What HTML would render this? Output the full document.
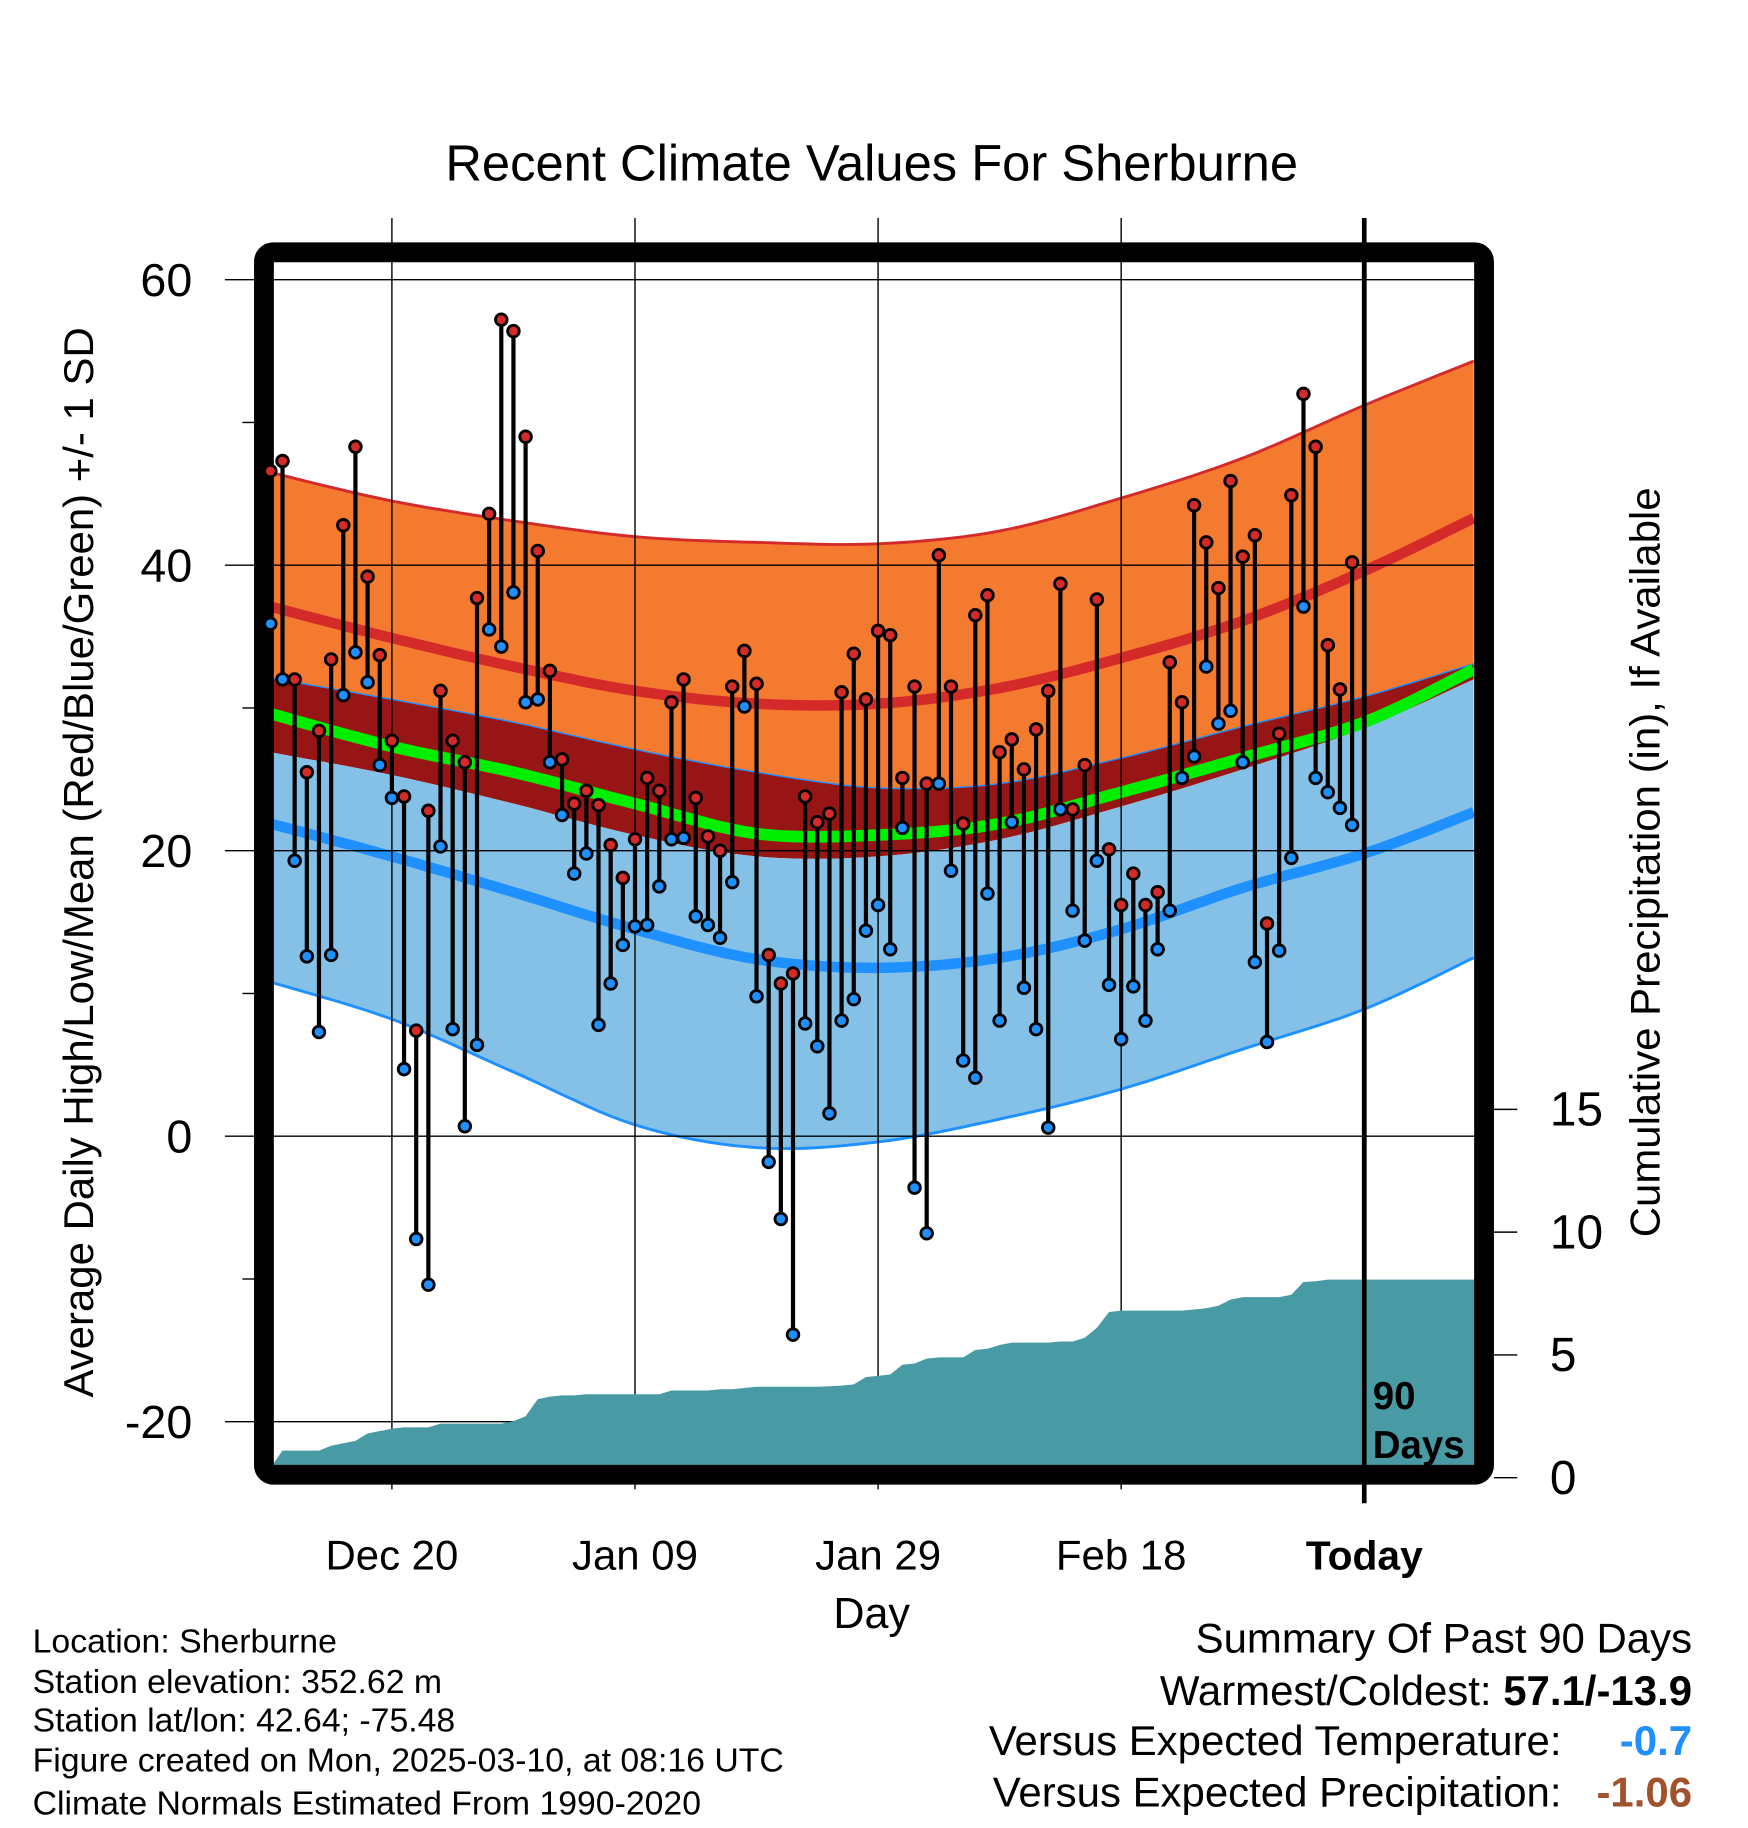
<!DOCTYPE html>
<html><head><meta charset="utf-8"><style>
html,body{margin:0;padding:0;background:#fff}
svg{display:block;font-family:"Liberation Sans",sans-serif}
</style></head><body>
<svg id="chart" width="1748" height="1828" viewBox="0 0 1500 1568.6" xmlns="http://www.w3.org/2000/svg">
<defs><clipPath id="plotclip"><rect x="226" y="216" width="1048" height="1050"/></clipPath></defs>
<rect width="1500" height="1568.6" fill="#fff"/>
<text x="748" y="155" font-size="43.5" text-anchor="middle">Recent Climate Values For Sherburne</text>
<g id="bands" clip-path="url(#plotclip)"></g>
<g id="grid"></g>
<g id="precip" clip-path="url(#plotclip)"></g>
<rect x="226.5" y="216.5" width="1047" height="1049" rx="8" fill="none" stroke="#000" stroke-width="17"/>
<g id="marks"></g>
<g id="axes"></g>
<text x="1178" y="1209" font-size="33" font-weight="bold">90</text>
<text x="1178" y="1251" font-size="33" font-weight="bold">Days</text>
<text x="748" y="1397" font-size="37" text-anchor="middle">Day</text>
<text transform="translate(80,740) rotate(-90)" font-size="36" text-anchor="middle">Average Daily High/Low/Mean (Red/Blue/Green) +/- 1 SD</text>
<text transform="translate(1424,740) rotate(-90)" font-size="36" text-anchor="middle">Cumulative Precipitation (in), If Available</text>
<g font-size="29">
<text x="28" y="1418">Location: Sherburne</text>
<text x="28" y="1453">Station elevation: 352.62 m</text>
<text x="28" y="1486">Station lat/lon: 42.64; -75.48</text>
<text x="28" y="1520">Figure created on Mon, 2025-03-10, at 08:16 UTC</text>
<text x="28" y="1557">Climate Normals Estimated From 1990-2020</text>
</g>
<g font-size="36">
<text x="1452" y="1418" text-anchor="end">Summary Of Past 90 Days</text>
<text x="1452" y="1463" text-anchor="end">Warmest/Coldest: <tspan font-weight="bold">57.1/-13.9</tspan></text>
<text x="1340" y="1506" text-anchor="end">Versus Expected Temperature:</text>
<text x="1452" y="1506" text-anchor="end" font-weight="bold" fill="#1e90ff">-0.7</text>
<text x="1340" y="1550" text-anchor="end">Versus Expected Precipitation:</text>
<text x="1452" y="1550" text-anchor="end" font-weight="bold" fill="#a0522d">-1.06</text>
</g>
</svg>
<script>
const highs=[46.6,47.3,32.0,25.5,28.4,33.4,42.8,48.3,39.2,33.7,27.7,23.8,7.4,22.8,31.2,27.7,26.2,37.7,43.6,57.2,56.4,49.0,41.0,32.6,26.4,23.3,24.2,23.2,20.4,18.1,20.8,25.1,24.2,30.4,32.0,23.7,21.0,20.0,31.5,34.0,31.7,12.7,10.7,11.4,23.8,22.0,22.6,31.1,33.8,30.6,35.4,35.1,25.1,31.5,24.7,40.7,31.5,21.9,36.5,37.9,26.9,27.8,25.7,28.5,31.2,38.7,22.9,26.0,37.6,20.1,16.2,18.4,16.2,17.1,33.2,30.4,44.2,41.6,38.4,45.9,40.6,42.1,14.9,28.2,44.9,52.0,48.3,34.4,31.3,40.2];
const lows=[35.9,32.0,19.3,12.6,7.3,12.7,30.9,33.9,31.8,26.0,23.7,4.7,-7.2,-10.4,20.3,7.5,0.7,6.4,35.5,34.3,38.1,30.4,30.6,26.2,22.5,18.4,19.8,7.8,10.7,13.4,14.7,14.8,17.5,20.8,20.9,15.4,14.8,13.9,17.8,30.1,9.8,-1.8,-5.8,-13.9,7.9,6.3,1.6,8.1,9.6,14.4,16.2,13.1,21.6,-3.6,-6.8,24.7,18.6,5.3,4.1,17.0,8.1,22.0,10.4,7.5,0.6,22.9,15.8,13.7,19.3,10.6,6.8,10.5,8.1,13.1,15.8,25.1,26.6,32.9,28.9,29.8,26.2,12.2,6.6,13.0,19.5,37.1,25.1,24.1,23.0,21.8];
const precip=[0.4,1.1,1.1,1.1,1.1,1.3,1.4,1.5,1.8,1.9,2.0,2.05,2.05,2.05,2.2,2.2,2.2,2.2,2.2,2.2,2.3,2.5,3.2,3.3,3.35,3.35,3.4,3.4,3.4,3.4,3.4,3.4,3.4,3.55,3.55,3.55,3.55,3.6,3.6,3.65,3.7,3.7,3.7,3.7,3.7,3.7,3.72,3.75,3.8,4.1,4.15,4.2,4.6,4.65,4.85,4.9,4.9,4.9,5.2,5.25,5.4,5.5,5.5,5.5,5.5,5.55,5.55,5.7,6.1,6.75,6.8,6.8,6.8,6.8,6.8,6.8,6.85,6.9,7.0,7.25,7.35,7.35,7.35,7.35,7.45,7.97,8.0,8.07,8.07,8.07];
const knotDays=[0,10,20,30,40,50,60,70,80,90,99];
const hiPlus=[46.5,44.5,43.1,42.0,41.6,41.5,42.4,44.7,47.5,51.2,54.3];
const hiMean=[37.1,34.9,32.9,31.2,30.3,30.3,31.4,33.5,36.1,39.6,43.3];
const hiMinus=[32.1,30.6,29.0,27.1,25.5,24.4,24.7,26.5,28.7,30.8,33.1];
const avgMean=[29.6,27.3,25.5,23.3,21.2,21.1,21.9,24.1,26.5,29.0,32.7];
const loPlus=[26.9,25.3,23.3,21.1,19.6,19.6,20.8,23.1,25.7,28.6,32.0];
const loMean=[21.9,19.6,17.1,14.5,12.4,11.8,12.5,14.5,17.4,19.8,22.7];
const loMinus=[10.8,8.2,4.5,0.8,-0.8,-0.4,1.2,3.3,6.1,8.9,12.5];
const yTicks=[60,40,20,0,-20];
const yMinor=[50,30,10,-10];
const pTicks=[0,5,10,15];
const xTickDays=[10,30,50,70,90];
const xTickLabels=["Dec 20","Jan 09","Jan 29","Feb 18","Today"];

const NS="http://www.w3.org/2000/svg";
const X=i=>232+10.43*i;
const Y=t=>975-12.25*t;
const P=p=>1268-21.07*p;
function mk(tag,attrs,parent){const e=document.createElementNS(NS,tag);for(const k in attrs)e.setAttribute(k,attrs[k]);parent.appendChild(e);return e;}
function curvePts(vals){
  const pts=knotDays.map((d,k)=>[X(d),Y(vals[k])]);
  let out=[];
  for(let k=0;k<pts.length-1;k++){
    const p0=pts[Math.max(0,k-1)],p1=pts[k],p2=pts[k+1],p3=pts[Math.min(pts.length-1,k+2)];
    for(let s=0;s<10;s++){const t=s/10,t2=t*t,t3=t2*t;
      const f=(a,b,c,d)=>0.5*((2*b)+(-a+c)*t+(2*a-5*b+4*c-d)*t2+(-a+3*b-3*c+d)*t3);
      out.push([f(p0[0],p1[0],p2[0],p3[0]),f(p0[1],p1[1],p2[1],p3[1])]);}
  }
  out.push(pts[pts.length-1]);return out;
}
function band(top,bot,fill,name){
  const a=curvePts(top),b=curvePts(bot).reverse();
  const el=mk('path',{d:'M'+a.concat(b).map(p=>p[0].toFixed(1)+','+p[1].toFixed(1)).join('L')+'Z',fill:fill},bands);
  
  
}
function line(vals,stroke,w,name){
  const el=mk('path',{d:'M'+curvePts(vals).map(p=>p[0].toFixed(1)+','+p[1].toFixed(1)).join('L'),fill:'none',stroke:stroke,'stroke-width':w},bands);
  
  
}
const bands=document.getElementById('bands');
band(hiPlus,hiMinus,'#f47a30','high-sd-band');
band(hiMinus,loPlus,'#971515','overlap-band');
band(loPlus,loMinus,'#85c1e6','low-sd-band');
line(hiPlus,'#d42a2a',2.5,'high-plus-sd-line');
line(hiMinus,'#1e90ff',1.2,'high-minus-sd-line');
line(loMinus,'#1e90ff',2.5,'low-minus-sd-line');
line(hiMean,'#d42a2a',9,'normal-high-line');
line(avgMean,'#00ee00',10,'normal-mean-line');
line(loMean,'#1e90ff',9,'normal-low-line');

const grid=document.getElementById('grid');
yTicks.forEach(t=>{
  const g=mk('line',{x1:193,x2:1274,y1:Y(t),y2:Y(t),stroke:'#000','stroke-width':1.2},grid);
  
  
});
xTickDays.forEach((d,k)=>{
  const last=k===xTickDays.length-1;
  const g=mk('line',{x1:X(d),x2:X(d),y1:187,y2:last?1290:1278,stroke:'#000','stroke-width':last?4:1.2},grid);
  
  
});

const pr=document.getElementById('precip');
let pd='M'+X(0)+','+P(0)+' ';
precip.forEach((v,i)=>{pd+='L'+X(i).toFixed(1)+','+P(v).toFixed(1)+' ';});
pd+='L1280,'+P(precip[precip.length-1]).toFixed(1)+' L1280,'+P(0)+' Z';
const pe=mk('path',{d:pd,fill:'#489ba5'},pr);


const tl=mk('line',{x1:X(90),x2:X(90),y1:216,y2:1266,stroke:'#000','stroke-width':4},pr);



const marks=document.getElementById('marks');
highs.forEach((h,i)=>{
  const s=mk('line',{x1:X(i),x2:X(i),y1:Y(h),y2:Y(lows[i]),stroke:'#000','stroke-width':3.6},marks);
  
  
});
highs.forEach((h,i)=>{
  const c1=mk('circle',{cx:X(i),cy:Y(h),r:5,fill:'#d42a2a',stroke:'#000','stroke-width':2.4},marks);
  
  
  const c2=mk('circle',{cx:X(i),cy:Y(lows[i]),r:5,fill:'#1e90ff',stroke:'#000','stroke-width':2.4},marks);
  
  
});

const axes=document.getElementById('axes');
yTicks.forEach(t=>{
  const l=mk('text',{x:165,y:Y(t)+14,'font-size':40,'text-anchor':'end'},axes);
  l.textContent=String(t);
  
  
});
yMinor.forEach(t=>{
  const l=mk('line',{x1:208,x2:218,y1:Y(t),y2:Y(t),stroke:'#000','stroke-width':1.2},axes);
  
  
});
pTicks.forEach(p=>{
  const l=mk('line',{x1:1282,x2:1302,y1:P(p),y2:P(p),stroke:'#000','stroke-width':1.2},axes);
  
  
  const t=mk('text',{x:1330,y:P(p)+14,'font-size':41},axes);
  t.textContent=String(p);
  
  
});
xTickDays.forEach((d,k)=>{
  const t=mk('text',{x:X(d),y:1347,'font-size':k===4?35:36,'text-anchor':'middle','font-weight':k===4?'bold':'normal'},axes);
  t.textContent=xTickLabels[k];
  
  
});
</script>
</body></html>
